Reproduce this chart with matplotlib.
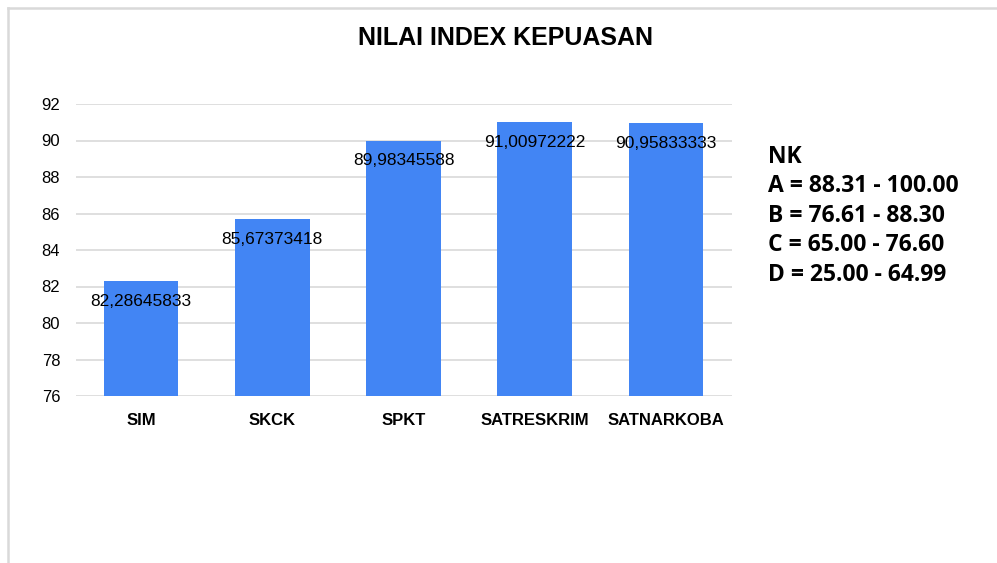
import matplotlib
matplotlib.use("Agg")
import matplotlib.pyplot as plt
from matplotlib.lines import Line2D

categories = ["SIM", "SKCK", "SPKT", "SATRESKRIM", "SATNARKOBA"]
values = [82.28645833, 85.67373418, 89.98345588, 91.00972222, 90.95833333]
value_labels = ["82,28645833", "85,67373418", "89,98345588", "91,00972222", "90,95833333"]
yticks = [76, 78, 80, 82, 84, 86, 88, 90, 92]
legend_lines = ["NK", "A = 88.31 - 100.00", "B = 76.61 - 88.30", "C = 65.00 - 76.60", "D = 25.00 - 64.99"]

W, H = 997, 563
fig = plt.figure(figsize=(W / 100, H / 100), dpi=100)
fig.patch.set_facecolor("white")

ax = fig.add_axes([75.5 / W, 1 - 396 / H, 656 / W, 292 / H])
x = list(range(len(categories)))
ax.bar(x, values, width=0.57, color="#4285F4", zorder=3, bottom=0)
ax.set_ylim(76, 92)
ax.set_xlim(-0.5, len(categories) - 0.5)
ax.set_yticks(yticks)
ax.set_yticklabels([str(t) for t in yticks], fontsize=12, family="Liberation Sans")
ax.set_xticks(x)
ax.set_xticklabels(categories, fontsize=12, fontweight="bold", family="Liberation Sans")
ax.tick_params(axis="both", length=0)
ax.tick_params(axis="x", pad=12)
ax.tick_params(axis="y", pad=11)
for s in ax.spines.values():
    s.set_visible(False)
ax.grid(axis="y", color="#d9d9d9", linewidth=1.2, zorder=0)
ax.set_axisbelow(True)

for xi, v, lab in zip(x, values, value_labels):
    ax.annotate(lab, (xi, v), xytext=(0, -20), textcoords="offset pixels",
                ha="center", va="center", fontsize=12.5, family="Liberation Sans",
                zorder=5)

fig.text(505 / W, 1 - 38 / H, "NILAI INDEX KEPUASAN", ha="center", va="center",
         fontsize=18, fontweight="bold", family="Liberation Sans")

for i, line in enumerate(legend_lines):
    fig.text(768 / W, 1 - (157 + i * 29.5) / H, line, ha="left", va="center",
             fontsize=16.5, fontweight="bold", family="Open Sans")

fig.add_artist(Line2D([8 / W, 1], [1 - 8 / H, 1 - 8 / H], color="#d9d9d9", linewidth=1.8))
fig.add_artist(Line2D([8 / W, 8 / W], [0, 1 - 8 / H], color="#d9d9d9", linewidth=1.8))

fig.savefig("out.png", dpi=100)
